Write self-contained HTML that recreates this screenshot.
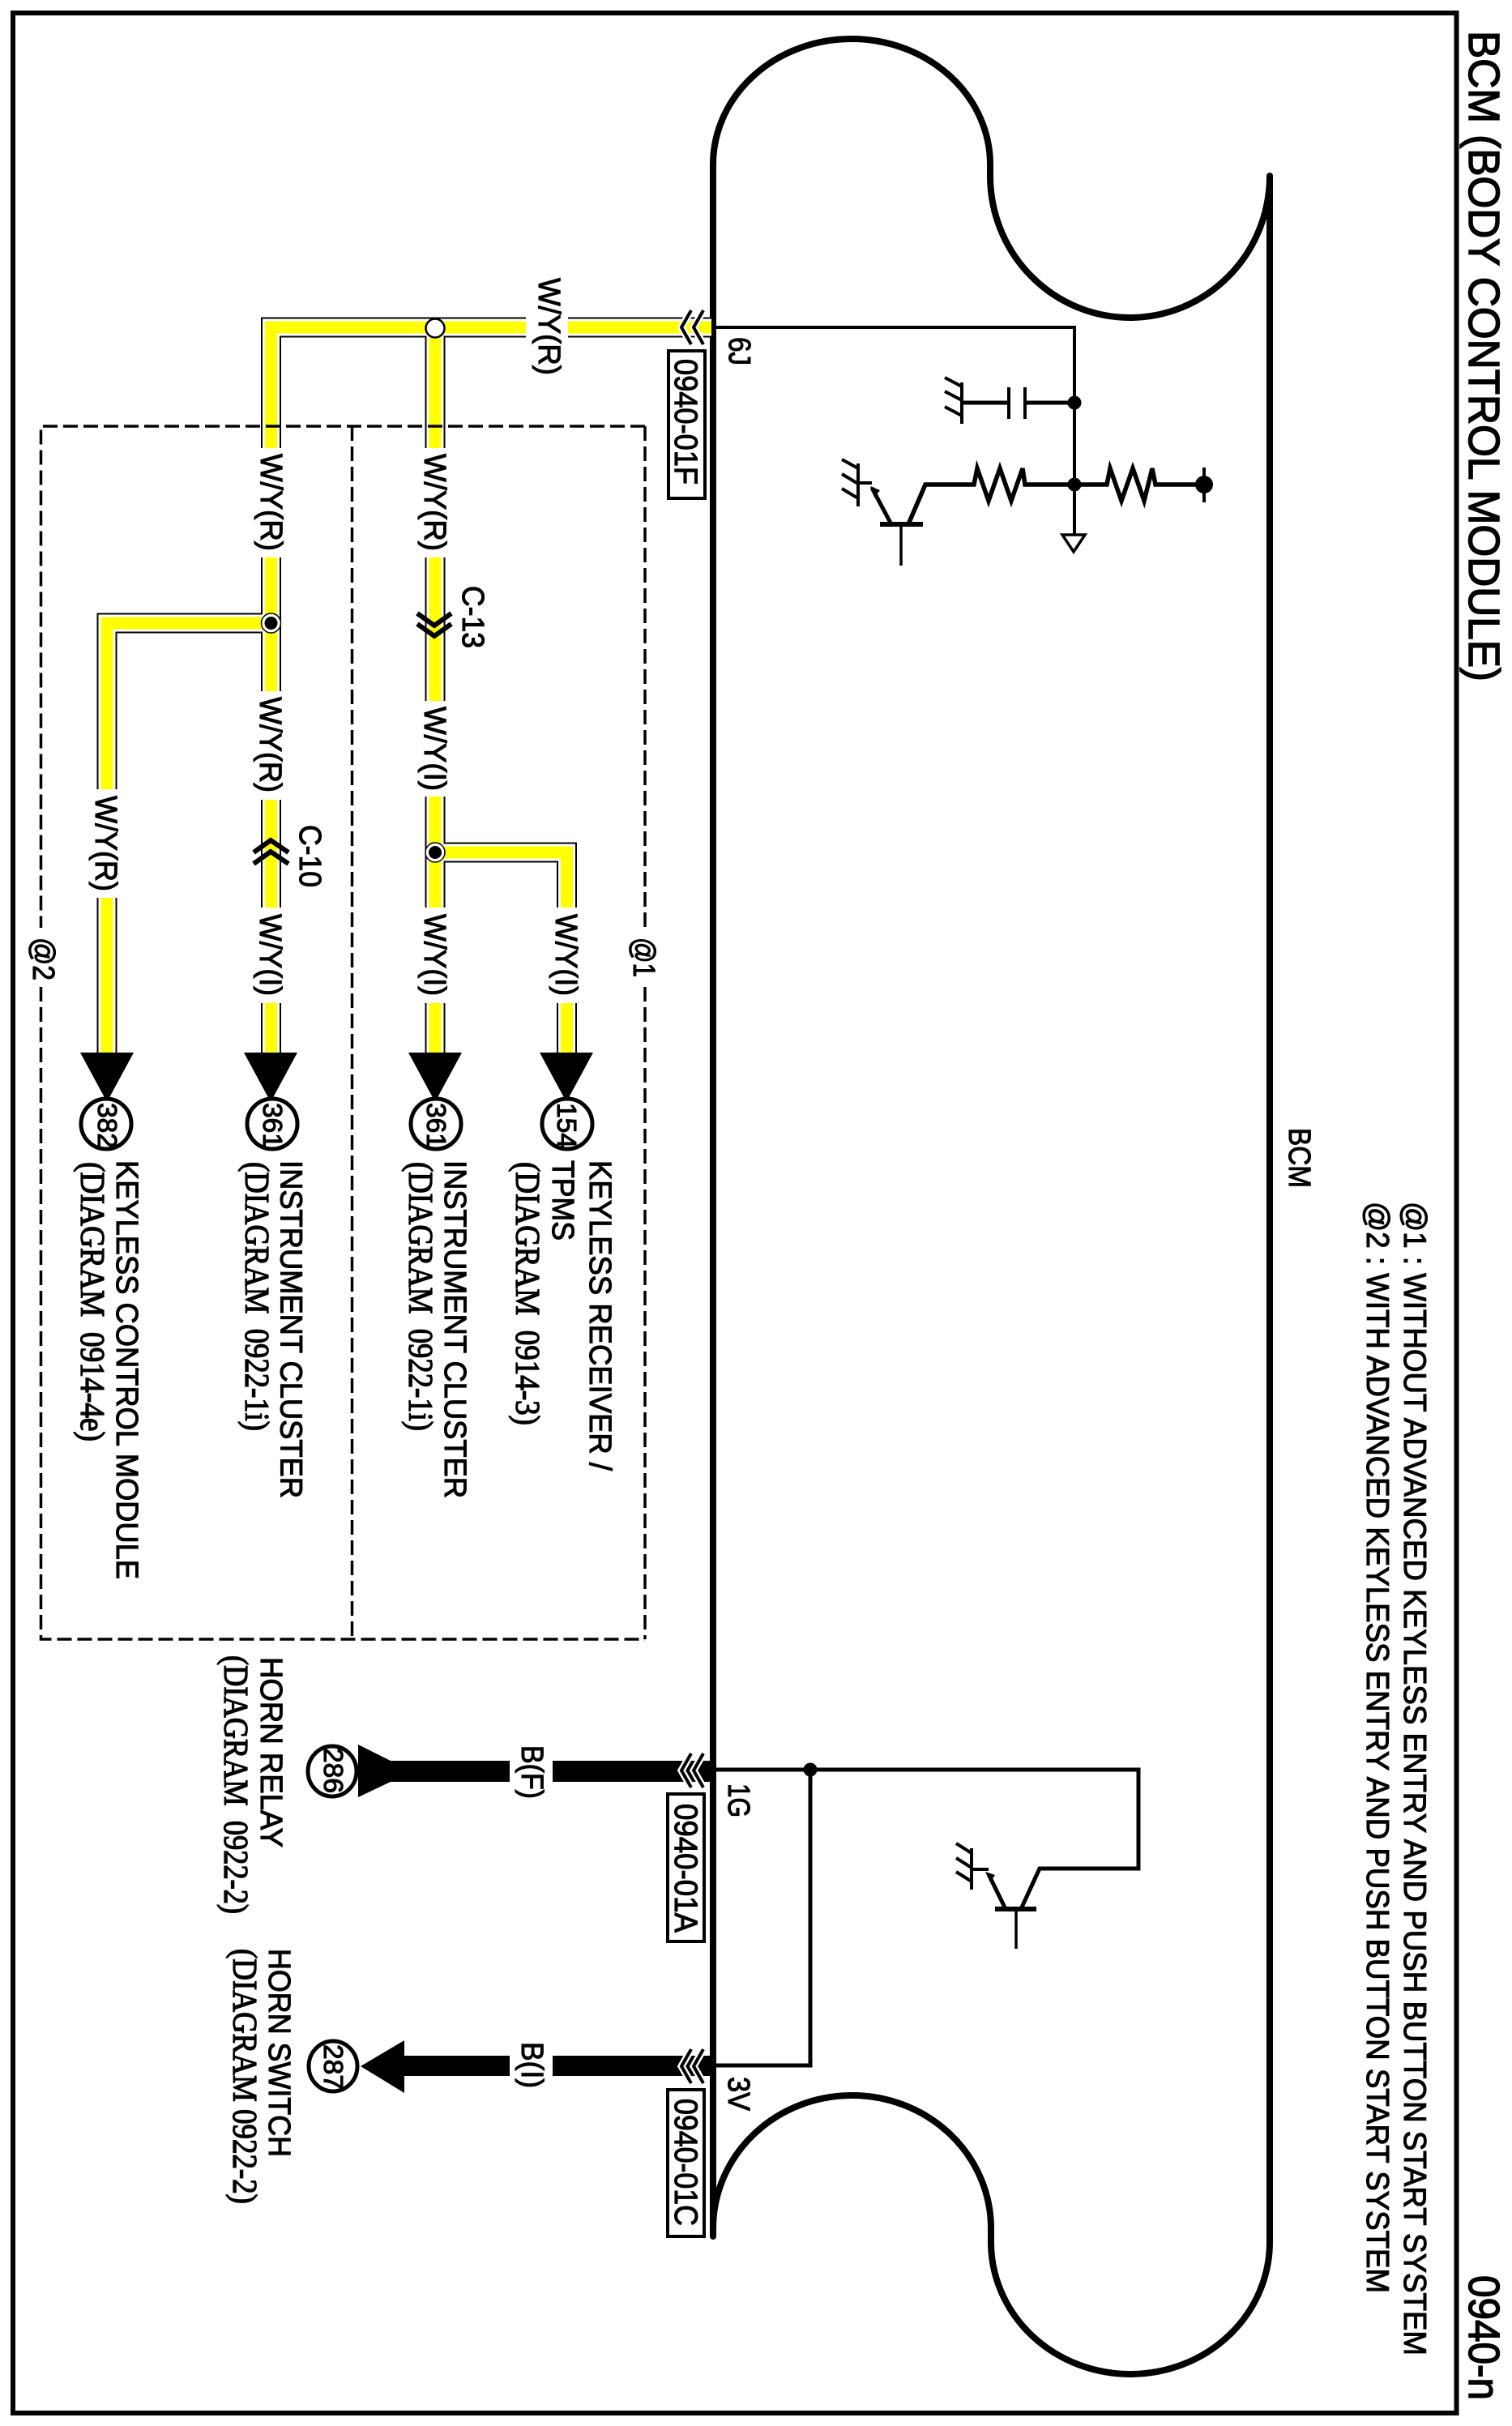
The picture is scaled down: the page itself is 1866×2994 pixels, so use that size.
<!DOCTYPE html>
<html>
<head>
<meta charset="utf-8">
<style>
html,body{margin:0;padding:0;background:#fff;width:1866px;height:2994px;overflow:hidden}
svg{display:block}
text{font-family:"Liberation Sans",sans-serif;fill:#000;stroke:#000;stroke-width:1.1;white-space:pre}
.s{font-family:"Liberation Serif",serif;font-size:42px;stroke-width:1.3}
.l{font-size:38px}
.n{font-size:33px}
.t{stroke-width:1.5}
</style>
</head>
<body>
<svg width="1866" height="2994" viewBox="0 0 1866 2994" xmlns="http://www.w3.org/2000/svg">
<defs>
<g id="w" fill="none">
<path d="M878 404H701"/>
<path d="M649 404H334.5V553"/>
<path d="M334.5 688V853"/><path d="M334.5 987V1120"/><path d="M334.5 1238V1299"/>
<path d="M537 404V553"/><path d="M537 688V865"/><path d="M537 983V1120"/><path d="M537 1238V1299"/>
<path d="M334.5 769H132V974"/><path d="M132 1108V1299"/>
<path d="M537 1052H699.5V1120"/><path d="M699.5 1238V1299"/>
</g>
</defs>
<rect width="1866" height="2994" fill="#fff"/>

<!-- frame -->
<rect x="16" y="16" width="1781.500" height="2962" fill="none" stroke="#000" stroke-width="6"/>

<!-- module outline -->
<path d="M880 2760V203A171 155 0 0 1 1222 203V217A172.500 175 0 0 0 1567 217V2767A172 163 0 0 1 1223 2767V2750A171.500 164 0 0 0 880 2750V2760Z" fill="none" stroke="#000" stroke-width="8" stroke-linejoin="round"/>

<!-- yellow wires -->
<use href="#w" stroke="#000" stroke-width="25"/>
<use href="#w" stroke="#fff" stroke-width="21"/>
<use href="#w" stroke="#ff0" stroke-width="15"/>

<!-- junctions -->
<circle cx="537" cy="405" r="11.500" fill="#fff" stroke="#000" stroke-width="2.500"/>
<circle cx="334.500" cy="769" r="12" fill="#fff" stroke="#000" stroke-width="1.500"/>
<circle cx="334.500" cy="769" r="8" fill="#000"/>
<circle cx="537" cy="1052" r="12" fill="#fff" stroke="#000" stroke-width="1.500"/>
<circle cx="537" cy="1052" r="8" fill="#000"/>

<!-- inline chevrons -->
<path d="M515 757L536 772L557 757M515 770L536 785L557 770" fill="none" stroke="#000" stroke-width="6"/>
<path d="M313 1052L334 1037L356 1052M313 1066L334 1051L356 1066" fill="none" stroke="#000" stroke-width="6"/>

<!-- arrowheads yellow -->
<path d="M99 1299H165L132 1360Z"/>
<path d="M301 1299H367L334 1360Z"/>
<path d="M504 1299H570L537 1360Z"/>
<path d="M666 1299H732L699 1360Z"/>

<!-- circles -->
<g fill="#fff" stroke="#000" stroke-width="5">
<circle cx="131" cy="1387" r="31"/>
<circle cx="336" cy="1387" r="31"/>
<circle cx="538" cy="1387" r="31"/>
<circle cx="700" cy="1387" r="31"/>
<ellipse cx="410" cy="2186" rx="30" ry="31"/>
<ellipse cx="411" cy="2550" rx="30" ry="31"/>
</g>

<!-- black wires -->
<rect x="480" y="2173" width="149" height="26"/>
<rect x="682" y="2173" width="196" height="26"/>
<path d="M442 2153L482 2173V2199L442 2218Z"/>
<rect x="499" y="2537" width="130" height="25"/>
<rect x="682" y="2537" width="196" height="25"/>
<path d="M445 2550L499 2518V2583Z"/>

<!-- bus connector chevrons -->
<g fill="none" stroke="#fff" stroke-width="9">
<path d="M853 383L841 404L853 425M868 383L856 404L868 425"/>
<path d="M853 2164L841 2185L853 2206M868 2164L856 2185L868 2206"/>
<path d="M853 2529L841 2550L853 2571M868 2529L856 2550L868 2571"/>
</g>
<g fill="none" stroke="#000" stroke-width="4">
<path d="M853 383L841 404L853 425M868 383L856 404L868 425"/>
<path d="M853 2164L841 2185L853 2206M868 2164L856 2185L868 2206"/>
<path d="M853 2529L841 2550L853 2571M868 2529L856 2550L868 2571"/>
</g>

<!-- upper circuit -->
<g fill="none" stroke="#000" stroke-width="4">
<path d="M880 404H1326V660"/>
<path d="M1326 497H1265M1245 497H1187" stroke-width="5"/>
<path d="M1265 478V517M1245 478V517"/>
<path d="M1187 472V523M1187 477L1166 466M1187 494L1166 483M1187 513L1166 502"/>
<path d="M1326 598H1265L1262 578L1248 618L1234 578L1220 618L1206 578L1202 598H1142L1121 647" stroke-width="5.500"/>
<path d="M1326 598H1366L1370 578L1384 618L1398 578L1412 618L1422 578L1426 598H1486" stroke-width="5.500"/>
<path d="M1486 577V620"/>
<path d="M1311 660H1339L1325 681Z" stroke-width="3.500"/>
<path d="M1086 647H1139" stroke-width="6"/>
<path d="M1112 647V698" stroke-width="3.500"/>
<path d="M1100 647L1076 602" stroke-width="5"/>
<path d="M1076 596H1059"/>
<path d="M1059 572V625M1059 578L1039 567M1059 597L1039 585M1059 615L1039 603"/>
</g>
<circle cx="1326" cy="497" r="8.500"/>
<circle cx="1326" cy="598" r="8.500"/>
<ellipse cx="1486" cy="598" rx="11" ry="11"/>
<path d="M1074 600L1086 605L1079 614Z"/>

<!-- lower circuit -->
<g fill="none" stroke="#000" stroke-width="5">
<path d="M880 2184H1405V2306H1283L1260 2356"/>
<path d="M1000 2184V2549H880"/>
<path d="M1228 2356H1279" stroke-width="6"/>
<path d="M1254 2356V2405" stroke-width="3.500"/>
<path d="M1241 2356L1220 2313" stroke-width="5"/>
<path d="M1220 2307H1199" stroke-width="4"/>
<path d="M1199 2281V2332M1199 2287L1180 2275M1199 2305L1180 2293M1199 2322L1180 2310" stroke-width="4"/>
</g>
<circle cx="1000" cy="2184" r="8.500"/>
<path d="M1216 2310L1228 2314L1222 2323Z"/>

<!-- dashed option boxes -->
<g fill="none" stroke="#000" stroke-width="3.500" stroke-dasharray="18 7">
<path d="M796 526H50.500V1145"/>
<path d="M50.500 1218V2023H796"/>
<path d="M796 526V1145"/>
<path d="M796 1218V2023"/>
<path d="M434.500 526V2023"/>
</g>

<!-- connector ID boxes -->
<g fill="#fff" stroke="#000" stroke-width="4">
<rect x="825" y="433" width="45" height="182"/>
<rect x="824" y="2214" width="45" height="182"/>
<rect x="824" y="2579" width="45" height="181"/>
</g>

<!-- text -->
<text class="t" transform="translate(1813,38) rotate(90)" font-size="54" textLength="803" lengthAdjust="spacingAndGlyphs">BCM (BODY CONTROL MODULE)</text>
<text class="t" transform="translate(1813,2808) rotate(90)" font-size="54" textLength="154" lengthAdjust="spacingAndGlyphs">0940-n</text>
<text transform="translate(1733,1483) rotate(90)" font-size="39" textLength="1424" lengthAdjust="spacingAndGlyphs">@1 : WITHOUT ADVANCED KEYLESS ENTRY AND PUSH BUTTON START SYSTEM</text>
<text transform="translate(1687,1483) rotate(90)" font-size="39" textLength="1347" lengthAdjust="spacingAndGlyphs">@2 : WITH ADVANCED KEYLESS ENTRY AND PUSH BUTTON START SYSTEM</text>
<text transform="translate(1591,1392) rotate(90)" font-size="38" textLength="74" lengthAdjust="spacingAndGlyphs">BCM</text>

<text class="l" transform="translate(900,416) rotate(90)" textLength="35" lengthAdjust="spacingAndGlyphs">6J</text>
<text class="l" transform="translate(899,2201) rotate(90)" textLength="42" lengthAdjust="spacingAndGlyphs">1G</text>
<text class="l" transform="translate(899,2563) rotate(90)" textLength="42" lengthAdjust="spacingAndGlyphs">3V</text>

<text transform="translate(833,443) rotate(90)" font-size="40" textLength="155" lengthAdjust="spacingAndGlyphs">0940-01F</text>
<text transform="translate(833,2226) rotate(90)" font-size="40" textLength="159" lengthAdjust="spacingAndGlyphs">0940-01A</text>
<text transform="translate(833,2590) rotate(90)" font-size="40" textLength="157" lengthAdjust="spacingAndGlyphs">0940-01C</text>

<text class="l" transform="translate(665,343) rotate(90)" textLength="120" lengthAdjust="spacingAndGlyphs">W/Y(R)</text>
<text class="l" transform="translate(322,560) rotate(90)" textLength="120" lengthAdjust="spacingAndGlyphs">W/Y(R)</text>
<text class="l" transform="translate(524,560) rotate(90)" textLength="120" lengthAdjust="spacingAndGlyphs">W/Y(R)</text>
<text class="l" transform="translate(524,872) rotate(90)" textLength="104" lengthAdjust="spacingAndGlyphs">W/Y(I)</text>
<text class="l" transform="translate(321,860) rotate(90)" textLength="118" lengthAdjust="spacingAndGlyphs">W/Y(R)</text>
<text class="l" transform="translate(118,982) rotate(90)" textLength="118" lengthAdjust="spacingAndGlyphs">W/Y(R)</text>
<text class="l" transform="translate(321,1128) rotate(90)" textLength="101" lengthAdjust="spacingAndGlyphs">W/Y(I)</text>
<text class="l" transform="translate(524,1128) rotate(90)" textLength="101" lengthAdjust="spacingAndGlyphs">W/Y(I)</text>
<text class="l" transform="translate(686,1128) rotate(90)" textLength="101" lengthAdjust="spacingAndGlyphs">W/Y(I)</text>

<text class="l" transform="translate(571,723) rotate(90)" textLength="77" lengthAdjust="spacingAndGlyphs">C-13</text>
<text class="l" transform="translate(370,1018) rotate(90)" textLength="77" lengthAdjust="spacingAndGlyphs">C-10</text>
<text class="l" transform="translate(782,1157) rotate(90)" textLength="49" lengthAdjust="spacingAndGlyphs">@1</text>
<text class="l" transform="translate(41,1157) rotate(90)" textLength="53" lengthAdjust="spacingAndGlyphs">@2</text>

<text class="n" transform="translate(121,1361) rotate(90)" textLength="56" lengthAdjust="spacingAndGlyphs">382</text>
<text class="n" transform="translate(325,1361) rotate(90)" textLength="56" lengthAdjust="spacingAndGlyphs">361</text>
<text class="n" transform="translate(527,1361) rotate(90)" textLength="56" lengthAdjust="spacingAndGlyphs">361</text>
<text class="n" transform="translate(688,1361) rotate(90)" textLength="56" lengthAdjust="spacingAndGlyphs">154</text>
<text class="n" transform="translate(400,2157) rotate(90)" textLength="56" lengthAdjust="spacingAndGlyphs">286</text>
<text class="n" transform="translate(400,2523) rotate(90)" textLength="56" lengthAdjust="spacingAndGlyphs">287</text>

<text class="l" transform="translate(144,1432) rotate(90)" textLength="517" lengthAdjust="spacingAndGlyphs">KEYLESS CONTROL MODULE</text>
<text class="s" transform="translate(100,1434) rotate(90)" textLength="345" lengthAdjust="spacingAndGlyphs">(DIAGRAM  0914-4e)</text>
<text class="l" transform="translate(346.500,1432) rotate(90)" textLength="417" lengthAdjust="spacingAndGlyphs">INSTRUMENT CLUSTER</text>
<text class="s" transform="translate(303,1434) rotate(90)" textLength="332" lengthAdjust="spacingAndGlyphs">(DIAGRAM  0922-1i)</text>
<text class="l" transform="translate(549,1432) rotate(90)" textLength="417" lengthAdjust="spacingAndGlyphs">INSTRUMENT CLUSTER</text>
<text class="s" transform="translate(505,1434) rotate(90)" textLength="332" lengthAdjust="spacingAndGlyphs">(DIAGRAM  0922-1i)</text>
<text class="l" transform="translate(728,1432) rotate(90)" textLength="383" lengthAdjust="spacingAndGlyphs">KEYLESS RECEIVER /</text>
<text class="l" transform="translate(682,1432) rotate(90)" textLength="99" lengthAdjust="spacingAndGlyphs">TPMS</text>
<text class="s" transform="translate(637,1434) rotate(90)" textLength="325" lengthAdjust="spacingAndGlyphs">(DIAGRAM  0914-3)</text>

<text class="l" transform="translate(644,2154) rotate(90)" textLength="66" lengthAdjust="spacingAndGlyphs">B(F)</text>
<text class="l" transform="translate(644,2520) rotate(90)" textLength="57" lengthAdjust="spacingAndGlyphs">B(I)</text>

<text class="l" transform="translate(322,2045) rotate(90)" textLength="235" lengthAdjust="spacingAndGlyphs">HORN RELAY</text>
<text class="s" transform="translate(277,2043) rotate(90)" textLength="319" lengthAdjust="spacingAndGlyphs">(DIAGRAM  0922-2)</text>
<text class="l" transform="translate(332,2405) rotate(90)" textLength="257" lengthAdjust="spacingAndGlyphs">HORN SWITCH</text>
<text class="s" transform="translate(288,2405) rotate(90)" textLength="315" lengthAdjust="spacingAndGlyphs">(DIAGRAM 0922-2)</text>
</svg>
</body>
</html>
